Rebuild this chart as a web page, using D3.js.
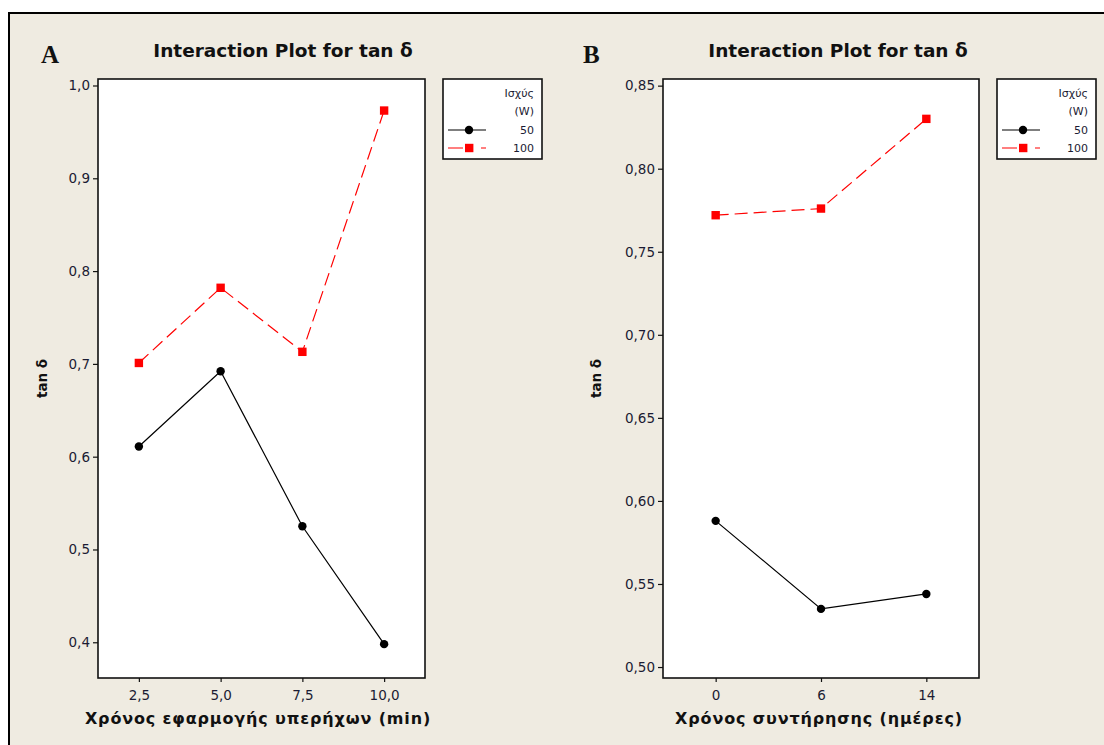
<!DOCTYPE html>
<html><head><meta charset="utf-8">
<script src="https://cdn.jsdelivr.net/npm/d3@7"></script>
<style>
html,body{margin:0;padding:0;background:#fff;}
svg{display:block;}
</style></head>
<body>
<svg id="chart" width="1104" height="745" font-family="DejaVu Sans, Verdana, sans-serif"></svg>
<script>
// ---- data ----
const powerLevels = ["50", "100"];
const legendTitle = ["Ισχύς", "(W)"];
const chartTitle = "Interaction Plot for tan δ";
const yLabel = "tan δ";

const timeA = ["2,5", "5,0", "7,5", "10,0"];
const a50 = [0.611, 0.692, 0.525, 0.398];
const a100 = [0.701, 0.782, 0.713, 0.973];
const yTicksA = [0.4, 0.5, 0.6, 0.7, 0.8, 0.9, 1.0];
const xLabelA = "Χρόνος εφαρμογής υπερήχων (min)";

const timeB = ["0", "6", "14"];
const b50 = [0.588, 0.535, 0.544];
const b100 = [0.772, 0.776, 0.830];
const yTicksB = [0.50, 0.55, 0.60, 0.65, 0.70, 0.75, 0.80, 0.85];
const xLabelB = "Χρόνος συντήρησης (ημέρες)";

// ---- drawing ----
const svg = d3.select("#chart");
svg.append("rect").attr("x", 9).attr("y", 13).attr("width", 1110).attr("height", 760)
  .attr("fill", "#efebe1").attr("stroke", "#000").attr("stroke-width", 2);

function panel(o) {
  const g = svg.append("g");
  const x = d3.scalePoint().domain(o.cats).range([o.left, o.right]).padding(0.5);
  const y = d3.scaleLinear().domain(o.ydom).range([o.bottom, o.top]);

  g.append("rect").attr("x", o.left).attr("y", o.top)
    .attr("width", o.right - o.left).attr("height", o.bottom - o.top)
    .attr("fill", "#fff").attr("stroke", "#111").attr("stroke-width", 1.6);

  const yAxis = g.append("g").attr("transform", `translate(${o.left},0)`)
    .call(d3.axisLeft(y).tickValues(o.yticks).tickSize(5).tickPadding(3)
      .tickFormat(d => d3.format(o.fmt)(d).replace(".", ",")));
  const xAxis = g.append("g").attr("transform", `translate(0,${o.bottom})`)
    .call(d3.axisBottom(x).tickSize(4).tickPadding(7));
  [yAxis, xAxis].forEach(a => {
    a.attr("font-family", null).attr("font-size", null);
    a.select(".domain").remove();
    a.selectAll("line").attr("stroke", "#111").attr("stroke-width", 1.2);
    a.selectAll("text").attr("font-size", 13.5).attr("fill", "#1b1b33");
  });
  xAxis.selectAll("text").attr("dy", "0.85em");

  const line = d3.line().x((d, i) => x(o.cats[i])).y(d => y(d));
  g.append("path").datum(o.s50).attr("d", line).attr("fill", "none")
    .attr("stroke", "#000").attr("stroke-width", 1.2);
  g.append("path").datum(o.s100).attr("d", line).attr("fill", "none")
    .attr("stroke", "#ff0000").attr("stroke-width", 1.2).attr("stroke-dasharray", "13,6");
  g.selectAll(".c").data(o.s50).enter().append("circle")
    .attr("cx", (d, i) => x(o.cats[i])).attr("cy", d => y(d)).attr("r", 4.2).attr("fill", "#000");
  g.selectAll(".s").data(o.s100).enter().append("rect")
    .attr("x", (d, i) => x(o.cats[i]) - 4.2).attr("y", d => y(d) - 4.2)
    .attr("width", 8.4).attr("height", 8.4).attr("fill", "#ff0000");

  // titles
  g.append("text").attr("x", o.titleX).attr("y", 57).attr("text-anchor", "middle")
    .attr("font-size", 18.5).attr("font-weight", "bold").attr("fill", "#111").text(chartTitle);
  g.append("text").attr("x", o.letterX).attr("y", 63)
    .attr("font-family", "Liberation Serif, serif").attr("font-size", 25).attr("font-weight", "bold")
    .attr("fill", "#111").text(o.letter);
  g.append("text").attr("transform", `translate(${o.ylabX},${(o.top + o.bottom) / 2}) rotate(-90)`)
    .attr("text-anchor", "middle").attr("font-size", 13.5).attr("font-weight", "bold").attr("fill", "#111").text(yLabel);
  g.append("text").attr("x", o.xlabX).attr("y", 724).attr("text-anchor", "middle")
    .attr("font-size", 16).attr("letter-spacing", 0.85).attr("font-weight", "bold").attr("fill", "#111").text(o.xlab);

  // legend
  const L = o.legX;
  const lg = g.append("g");
  lg.append("rect").attr("x", L).attr("y", 79).attr("width", 99).attr("height", 80)
    .attr("fill", "#fff").attr("stroke", "#111").attr("stroke-width", 1.6);
  legendTitle.forEach((t, i) => {
    lg.append("text").attr("x", L + 91).attr("y", 97 + i * 18).attr("text-anchor", "end")
      .attr("font-size", 11).attr("fill", "#1b1b33").text(t);
  });
  powerLevels.forEach((p, i) => {
    const yy = 130 + i * 18;
    lg.append("text").attr("x", L + 91).attr("y", yy + 4).attr("text-anchor", "end")
      .attr("font-size", 11).attr("fill", "#1b1b33").text(p);
    if (i === 0) {
      lg.append("line").attr("x1", L + 5).attr("x2", L + 43).attr("y1", yy).attr("y2", yy)
        .attr("stroke", "#000").attr("stroke-width", 1.2);
      lg.append("circle").attr("cx", L + 26).attr("cy", yy).attr("r", 4.2).attr("fill", "#000");
    } else {
      lg.append("line").attr("x1", L + 5).attr("x2", L + 43).attr("y1", yy).attr("y2", yy)
        .attr("stroke", "#ff0000").attr("stroke-width", 1.2).attr("stroke-dasharray", "15,18,5");
      lg.append("rect").attr("x", L + 22).attr("y", yy - 4.2).attr("width", 8.4).attr("height", 8.4)
        .attr("fill", "#ff0000");
    }
  });
}

panel({cats: timeA, s50: a50, s100: a100, ydom: [0.3615, 1.007], yticks: yTicksA, fmt: ".1f",
  left: 98, right: 425, top: 79, bottom: 678, titleX: 283, letterX: 41, letter: "A",
  ylabX: 47, xlabX: 258, xlab: xLabelA, legX: 443});
panel({cats: timeB, s50: b50, s100: b100, ydom: [0.4934, 0.854], yticks: yTicksB, fmt: ".2f",
  left: 663, right: 979, top: 79, bottom: 678, titleX: 838, letterX: 583, letter: "B",
  ylabX: 601, xlabX: 819, xlab: xLabelB, legX: 997});
</script>
</body></html>
